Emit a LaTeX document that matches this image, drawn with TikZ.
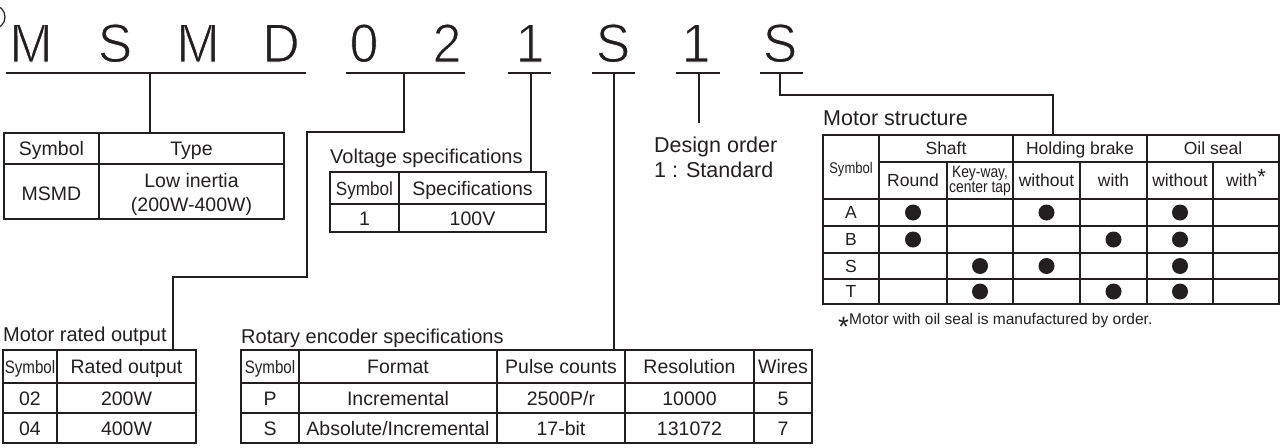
\documentclass[tikz,border=0pt]{standalone}
\usepackage{fontspec}
\setmainfont{Liberation Sans}
\newfontfamily\codefont[FakeStretch=0.95]{Liberation Sans}
\newfontfamily\semifont[FakeStretch=0.9]{Liberation Sans}
\newfontfamily\narrowfont[FakeStretch=0.84]{Liberation Sans}
\definecolor{ink}{HTML}{231F20}
% thin outline letters: fill ink, white stroke over the edge
\newcommand\thinchar[1]{\special{pdf:bcolor [0.137 0.122 0.125] [1 1 1]}\special{pdf:literal direct 2 Tr 0.9 w}#1\special{pdf:literal direct 0 Tr}\special{pdf:ecolor}}

\begin{document}
\begin{tikzpicture}[x=1pt,y=-1pt]
 \tikzstyle{code}=[anchor=base, inner sep=0pt, text=ink, font=\codefont\fontsize{54.5}{55}\selectfont]
 \tikzstyle{cell}=[inner sep=0pt, text height=14pt, text depth=0pt, text=ink, font=\fontsize{19.5}{21}\selectfont]
 \tikzstyle{scell}=[inner sep=0pt, text height=12.5pt, text depth=0pt, text=ink, font=\fontsize{17.5}{19}\selectfont]
 \tikzstyle{symb}=[inner sep=0pt, text height=13pt, text depth=0pt, text=ink, font=\narrowfont\fontsize{18}{18}\selectfont]
 \tikzstyle{lbl}=[anchor=base west, inner sep=0pt, text=ink, font=\fontsize{20}{24}\selectfont]
 \tikzstyle{rule}=[line width=1.2pt, draw=ink]
 \tikzstyle{dot}=[circle, fill=ink, inner sep=0pt, minimum size=16pt]
 \useasboundingbox (0,0) rectangle (1281,447);
 \draw[rule] (-7,17) circle (12pt);
 %
 \node[code] (chM) at (31,62) {\thinchar{M}};
 \node[code] (chS) at (115,62) {\thinchar{S}};
 \node[code] (chMb) at (198,62) {\thinchar{M}};
 \node[code] (chD) at (281,62) {\thinchar{D}};
 \node[code] (chZero) at (364,62) {\thinchar{0}};
 \node[code] (chTwo) at (447,62) {\thinchar{2}};
 \node[code] (chVolt) at (530,62) {\thinchar{1}};
 \node[code] (chEnc) at (613,62) {\thinchar{S}};
 \node[code] (chDes) at (696,62) {\thinchar{1}};
 \node[code] (chStr) at (780,62) {\thinchar{S}};
 %
 \draw[rule] (6,73) -- (306,73);
 \draw[rule] (346,73) -- (465,73);
 \draw[rule] (508,73) -- (551,73);
 \draw[rule] (592,73) -- (635,73);
 \draw[rule] (676,73) -- (720,73);
 \draw[rule] (760,73) -- (803,73);
 %
 \coordinate (jType) at (150,73);  \coordinate (eType) at (150,133);
 \coordinate (jOut) at (404,73);   \coordinate (eOut) at (173,350);
 \coordinate (jVolt) at (531,73);  \coordinate (eVolt) at (531,172);
 \coordinate (jEnc) at (614,73);   \coordinate (eEnc) at (614,350);
 \coordinate (jDes) at (699,73);   \coordinate (eDes) at (699,123);
 \coordinate (jStr) at (780,73);   \coordinate (eStr) at (1053,135);
 %% type
 \draw[rule] (4,133) rectangle (284,219);
 \draw[rule] (4,164) -- (284,164) (99,133) -- (99,219);
 \node[cell] (tySym) at (51.5,148.5) {Symbol};
 \node[cell] (tyHead) at (191.5,148.5) {Type};
 \node[cell] (tyMSMD) at (51.5,193) {MSMD};
 \node[cell] (tyLow) at (191.5,180) {Low inertia};
 \node[cell] (tyRange) at (191.5,204.5) {(200W-400W)};
 %% voltage
 \node[lbl] (vLbl) at (330,163) {Voltage specifications};
 \draw[rule] (330,172) rectangle (546,232);
 \draw[rule] (330,204) -- (546,204) (399,172) -- (399,232);
 \node[cell, font=\semifont\fontsize{19}{21}\selectfont] (vSym) at (364.5,188) {Symbol};
 \node[cell] (vHead) at (472.5,188) {Specifications};
 \node[cell] (vOne) at (364.5,218) {1};
 \node[cell] (vVal) at (472.5,218) {100V};
 %% design order
 \node[lbl, font=\fontsize{21.5}{24}\selectfont] (dLbl) at (654,152) {Design order};
 \node[lbl, font=\fontsize{21.5}{24}\selectfont] (dStd) at (654,177) {1 : Standard};
 %% motor rated output
 \node[lbl] (oLbl) at (3,341) {Motor rated output};
 \draw[rule] (3,350) rectangle (196,443);
 \draw[rule] (3,383) -- (196,383) (3,413) -- (196,413) (57,350) -- (57,443);
 \node[symb] (oSym) at (30,366.5) {Symbol};
 \node[cell] (oHead) at (126.5,366.5) {Rated output};
 \node[cell] (oA) at (30,398) {02};
 \node[cell] (oAv) at (126.5,398) {200W};
 \node[cell] (oB) at (30,428) {04};
 \node[cell] (oBv) at (126.5,428) {400W};
 %% rotary encoder
 \node[lbl] (eLbl) at (241,343) {Rotary encoder specifications};
 \draw[rule] (241,350) rectangle (812,443);
 \draw[rule] (241,383) -- (812,383) (241,413) -- (812,413);
 \draw[rule] (299,350) -- (299,443) (497,350) -- (497,443) (625,350) -- (625,443) (754,350) -- (754,443);
 \node[symb] (eSym) at (270,366.5) {Symbol};
 \node[cell] (eFmt) at (398,366.5) {Format};
 \node[cell] (ePls) at (561,366.5) {Pulse counts};
 \node[cell] (eRes) at (689.5,366.5) {Resolution};
 \node[cell] (eWir) at (783,366.5) {Wires};
 \node[cell] (eP) at (270,398) {P};
 \node[cell] (ePf) at (398,398) {Incremental};
 \node[cell] (ePp) at (561,398) {2500P/r};
 \node[cell] (ePr) at (689.5,398) {10000};
 \node[cell] (ePw) at (783,398) {5};
 \node[cell] (eS) at (270,428) {S};
 \node[cell] (eSf) at (398,428) {Absolute/Incremental};
 \node[cell] (eSp) at (561,428) {17-bit};
 \node[cell] (eSr) at (689.5,428) {131072};
 \node[cell] (eSw) at (783,428) {7};
 %% motor structure
 \node[lbl, font=\fontsize{21.5}{24}\selectfont] (sLbl) at (823,125) {Motor structure};
 \draw[rule] (823,135) rectangle (1279,304);
 \draw[rule] (879,162) -- (1279,162) (823,199) -- (1279,199) (823,226) -- (1279,226) (823,253) -- (1279,253) (823,279) -- (1279,279);
 \draw[rule] (879,135) -- (879,304) (1013,135) -- (1013,304) (1147,135) -- (1147,304);
 \draw[rule] (947,162) -- (947,304) (1080,162) -- (1080,304) (1213,162) -- (1213,304);
 \node[symb, font=\narrowfont\fontsize{15.5}{16}\selectfont, text height=11pt] (sSym) at (851,168) {Symbol};
 \node[scell] (sShaft) at (946,148.5) {Shaft};
 \node[scell] (sBrake) at (1080,148.5) {Holding brake};
 \node[scell] (sSeal) at (1213,148.5) {Oil seal};
 \node[scell] (sRound) at (913,180.5) {Round};
 \node[anchor=base, inner sep=0pt, text=ink, font=\narrowfont\fontsize{16.5}{16}\selectfont] (sKey) at (980,177) {Key-way,};
 \node[anchor=base, inner sep=0pt, text=ink, font=\narrowfont\fontsize{16.5}{16}\selectfont] (sTap) at (980,192) {center tap};
 \node[scell] (sBno) at (1046.5,180.5) {without};
 \node[scell] (sByes) at (1113.5,180.5) {with};
 \node[scell] (sOno) at (1180,180.5) {without};
 \node[scell] (sOyes) at (1246,180.5) {with\raisebox{2pt}{\fontsize{22}{22}\selectfont *}};
 \node[scell] (sA) at (851,212.5) {A};
 \node[scell] (sB) at (851,239.5) {B};
 \node[scell] (sS) at (851,266) {S};
 \node[scell] (sT) at (851,291.5) {T};
 \node[dot] (dA1) at (913,212.5) {};
 \node[dot] (dA2) at (1046.5,212.5) {};
 \node[dot] (dA3) at (1180,212.5) {};
 \node[dot] (dB1) at (913,239.5) {};
 \node[dot] (dB2) at (1113.5,239.5) {};
 \node[dot] (dB3) at (1180,239.5) {};
 \node[dot] (dS1) at (980,266) {};
 \node[dot] (dS2) at (1046.5,266) {};
 \node[dot] (dS3) at (1180,266) {};
 \node[dot] (dT1) at (980,291.5) {};
 \node[dot] (dT2) at (1113.5,291.5) {};
 \node[dot] (dT3) at (1180,291.5) {};
 \node[lbl, font=\fontsize{15.5}{18}\selectfont] (sNote) at (838,324) {\raisebox{-12pt}{\fontsize{28}{28}\selectfont *}Motor with oil seal is manufactured by order.};
 %%
 \draw[rule] (jType) -- (eType);
 \draw[rule] (jOut) |- (307,132) -- (307,277) -| (eOut);
 \draw[rule] (jVolt) -- (eVolt);
 \draw[rule] (jEnc) -- (eEnc);
 \draw[rule] (jDes) -- (eDes);
 \draw[rule] (jStr) |- (eStr |- 0,95) -- (eStr);
\end{tikzpicture}
\end{document}
